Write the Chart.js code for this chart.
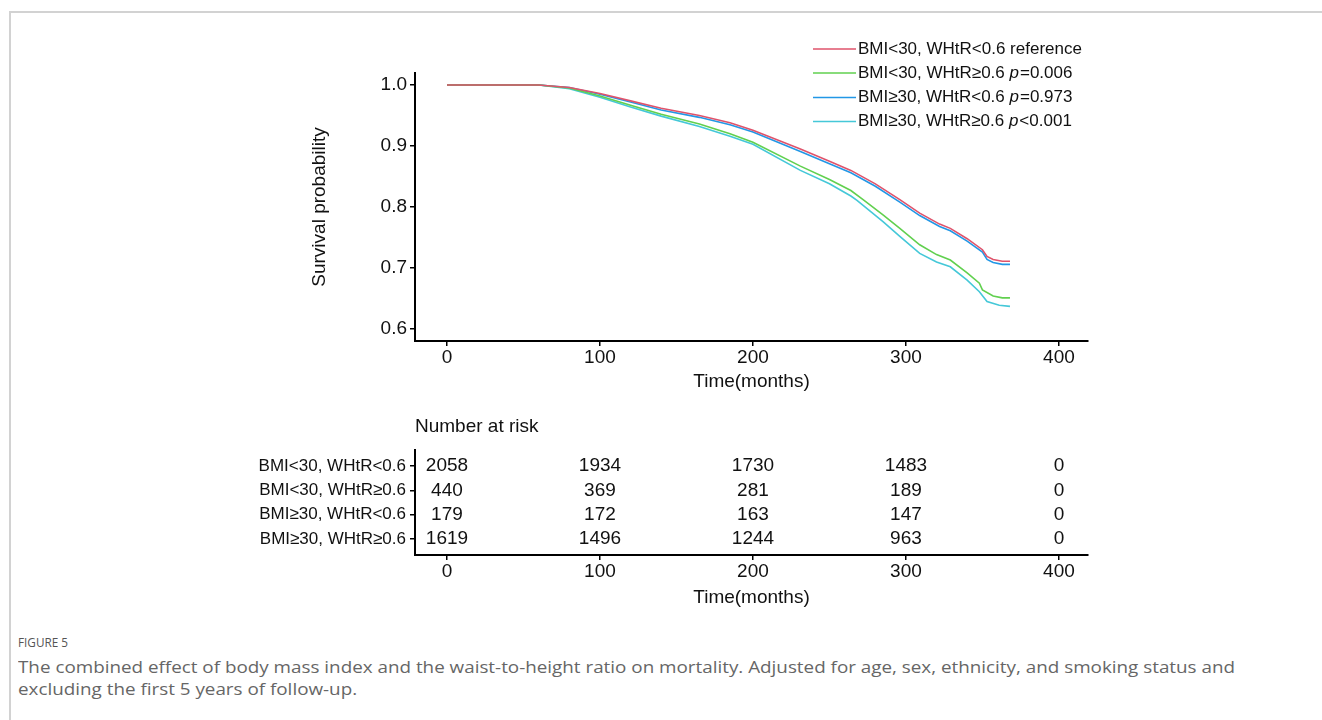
<!DOCTYPE html>
<html><head><meta charset="utf-8">
<script src="https://cdn.jsdelivr.net/npm/chart.js@4.4.1/dist/chart.umd.min.js"></script>
<style>
body{margin:0;width:1322px;height:720px;background:#fff;position:relative;overflow:hidden;font-family:"Liberation Sans",Arial,sans-serif}
#frameTop{position:absolute;left:9px;top:11px;width:1313px;height:0;border-top:2px solid #d2d2d2}
#frameLeft{position:absolute;left:9px;top:11px;width:0;height:709px;border-left:2px solid #d2d2d2}
#c1{position:absolute;left:300px;top:20px}
#c2{position:absolute;left:240px;top:410px}
#figlabel{position:absolute;left:18px;top:633px;font-family:"Open Sans",sans-serif;font-size:13px;color:#555;white-space:nowrap;transform-origin:0 0}
#caption{position:absolute;left:18px;top:656px;font-family:"Open Sans",sans-serif;font-size:15.5px;line-height:22px;color:#666;white-space:nowrap;transform-origin:0 0}
</style></head>
<body>
<div id="frameTop"></div><div id="frameLeft"></div>
<canvas id="c1" width="800" height="380"></canvas>
<canvas id="c2" width="860" height="210"></canvas>
<div id="figlabel">FIGURE 5</div>
<div id="caption"><span id="cap1">The combined effect of body mass index and the waist-to-height ratio on mortality. Adjusted for age, sex, ethnicity, and smoking status and</span><br><span id="cap2">excluding the first 5 years of follow-up.</span></div>
<script>
// ---- data ----
const groupLabels = ['BMI<30, WHtR<0.6', 'BMI<30, WHtR\u22650.6', 'BMI\u226530, WHtR<0.6', 'BMI\u226530, WHtR\u22650.6'];
const pLabels = ['reference', 'p=0.006', 'p=0.973', 'p<0.001'];
const seriesColors = ['#DF536B', '#61D04F', '#2297E6', '#45C8D8'];

const timesRef   = [0,60,80,100,120,140,165,185,200,231,250,264,280,296,309,322,329,340,350,353,357,363,368];
const survRef    = [1.0,1.0,0.996,0.986,0.974,0.962,0.950,0.938,0.926,0.895,0.875,0.860,0.838,0.812,0.790,0.772,0.765,0.748,0.730,0.719,0.714,0.711,0.711];
const timesG2    = [0,60,80,100,120,140,165,185,200,231,250,264,272,285,296,309,320,329,340,348,350,357,363,368];
const survG2     = [1.0,1.0,0.995,0.982,0.967,0.952,0.936,0.920,0.906,0.867,0.845,0.827,0.812,0.787,0.765,0.738,0.722,0.713,0.692,0.675,0.664,0.654,0.651,0.651];
const timesG3    = [0,60,80,100,120,140,165,185,200,231,250,264,280,296,309,322,329,340,350,353,357,363,368];
const survG3     = [1.0,1.0,0.996,0.985,0.972,0.959,0.947,0.935,0.923,0.891,0.871,0.856,0.834,0.808,0.786,0.768,0.761,0.744,0.726,0.714,0.709,0.706,0.706];
const timesG4    = [0,60,80,100,120,140,165,185,200,231,250,264,268,285,296,309,320,329,340,348,353,361,368];
const survG4     = [1.0,1.0,0.994,0.980,0.964,0.949,0.932,0.916,0.903,0.860,0.838,0.818,0.811,0.776,0.752,0.724,0.710,0.702,0.680,0.661,0.645,0.639,0.637];

const xTicks = [0,100,200,300,400];
const yTicks = [0.6,0.7,0.8,0.9,1.0];

const riskTimes = [0,100,200,300,400];
const riskG1 = [2058,1934,1730,1483,0];
const riskG2 = [440,369,281,189,0];
const riskG3 = [179,172,163,147,0];
const riskG4 = [1619,1496,1244,963,0];

// ---- helpers ----
const TXT = '#111';
const FONT = '"Liberation Sans", Arial, sans-serif';
function toXY(ts, ss){ return ts.map((t,i)=>({x:t,y:ss[i]})); }
const allTimes = [timesRef,timesG2,timesG3,timesG4];
const allSurv = [survRef,survG2,survG3,survG4];

const legendPlugin = {
  id:'kmLegend',
  afterDraw(chart){
    const ctx = chart.ctx;
    const rowY = [29, 53, 77.5, 101.5];
    ctx.save();
    ctx.textBaseline = 'middle';
    chart.data.datasets.forEach((ds,i)=>{
      const y = rowY[i];
      ctx.strokeStyle = ds.borderColor; ctx.lineWidth = 1.5;
      ctx.beginPath(); ctx.moveTo(513,y); ctx.lineTo(556,y); ctx.stroke();
      let x = 558;
      ctx.fillStyle = TXT; ctx.font = '17px '+FONT; ctx.textAlign='left';
      const base = groupLabels[i] + ' ';
      ctx.fillText(base, x, y); x += ctx.measureText(base).width;
      const p = pLabels[i];
      if (p.startsWith('p')) {
        ctx.font = 'italic 17px '+FONT; ctx.fillText('p', x, y); x += ctx.measureText('p').width + 1;
        ctx.font = '17px '+FONT; ctx.fillText(p.slice(1), x, y);
      } else {
        ctx.fillText(p, x, y);
      }
    });
    ctx.restore();
  }
};

const axisCommon = {
  border:{display:true,color:'#000',width:2},
  grid:{display:true,drawOnChartArea:false,drawTicks:true,tickLength:5,color:'#000',lineWidth:1.5}
};

new Chart(document.getElementById('c1'), {
  type:'line',
  data:{datasets: allTimes.map((ts,i)=>({
    label: groupLabels[i] + ' ' + pLabels[i],
    data: toXY(ts, allSurv[i]),
    borderColor: seriesColors[i], backgroundColor: seriesColors[i],
    borderWidth: 1.6, pointRadius: 0, tension: 0, fill:false
  }))},
  options:{
    responsive:false, animation:false, devicePixelRatio:1,
    layout:{padding:{top:53,right:12,left:0,bottom:0}},
    plugins:{legend:{display:false},tooltip:{enabled:false},title:{display:false}},
    scales:{
      x:{type:'linear',min:-20.9,max:419,
        afterBuildTicks(s){ s.ticks = xTicks.map(v=>({value:v})); },
        afterFit(s){ s.height = 59; },
        ticks:{color:TXT,font:{family:FONT,size:19},padding:0,maxRotation:0,callback:v=>String(v)},
        title:{display:true,text:'Time(months)',color:TXT,font:{family:FONT,size:19},padding:{top:0,bottom:7}},
        ...axisCommon},
      y:{type:'linear',min:0.5803,max:1.0197,
        afterBuildTicks(s){ s.ticks = yTicks.map(v=>({value:v})); },
        afterFit(s){ s.width = 115; },
        ticks:{color:TXT,font:{family:FONT,size:19},padding:3,callback:v=>Number(v).toFixed(1)},
        title:{display:true,text:'Survival probability',color:TXT,font:{family:FONT,size:19},padding:{top:8,bottom:0}},
        ...axisCommon}
    }
  },
  plugins:[legendPlugin]
});

// ---- risk table ----
const riskAll = [riskG1,riskG2,riskG3,riskG4];
const riskPlugin = {
  id:'riskText',
  afterDatasetsDraw(chart){
    const ctx = chart.ctx;
    ctx.save();
    ctx.fillStyle = TXT; ctx.font = '19px '+FONT; ctx.textAlign='center'; ctx.textBaseline='middle';
    chart.data.datasets.forEach((ds,di)=>{
      const meta = chart.getDatasetMeta(di);
      meta.data.forEach((pt,pi)=>{ ctx.fillText(String(ds.data[pi].n), pt.x, pt.y); });
    });
    ctx.textAlign='left';
    ctx.fillText('Number at risk', chart.chartArea.left, 17);
    ctx.restore();
  }
};
new Chart(document.getElementById('c2'), {
  type:'scatter',
  data:{datasets: riskAll.map((arr,g)=>({
    label: groupLabels[g],
    data: riskTimes.map((t,i)=>({x:t, y:4-g, n:arr[i]})),
    pointRadius:0, showLine:false
  }))},
  options:{
    responsive:false, animation:false, devicePixelRatio:1,
    layout:{padding:{top:40,right:12,left:0,bottom:0}},
    plugins:{legend:{display:false},tooltip:{enabled:false}},
    scales:{
      x:{type:'linear',min:-20.9,max:419,
        afterBuildTicks(s){ s.ticks = riskTimes.map(v=>({value:v})); },
        afterFit(s){ s.height = 65; },
        ticks:{color:TXT,font:{family:FONT,size:19},padding:0,maxRotation:0,callback:v=>String(v)},
        title:{display:true,text:'Time(months)',color:TXT,font:{family:FONT,size:19},padding:{top:0,bottom:11}},
        ...axisCommon},
      y:{type:'linear',min:0.34,max:4.66,
        afterBuildTicks(s){ s.ticks = [4,3,2,1].map(v=>({value:v})); },
        afterFit(s){ s.width = 175; },
        ticks:{color:TXT,font:{family:FONT,size:17},padding:4,callback:v=>groupLabels[4-v]},
        ...axisCommon}
    }
  },
  plugins:[riskPlugin]
});

// caption width fit
function fitCaption(){
  const c = document.getElementById('caption');
  const w = document.getElementById('cap1').getBoundingClientRect().width;
  c.style.transform = 'scaleX(' + (1217 / w) + ')';
  const f = document.getElementById('figlabel');
  f.style.transform = 'scaleX(' + (50 / f.getBoundingClientRect().width) + ')';
}
fitCaption();
</script>
</body></html>
